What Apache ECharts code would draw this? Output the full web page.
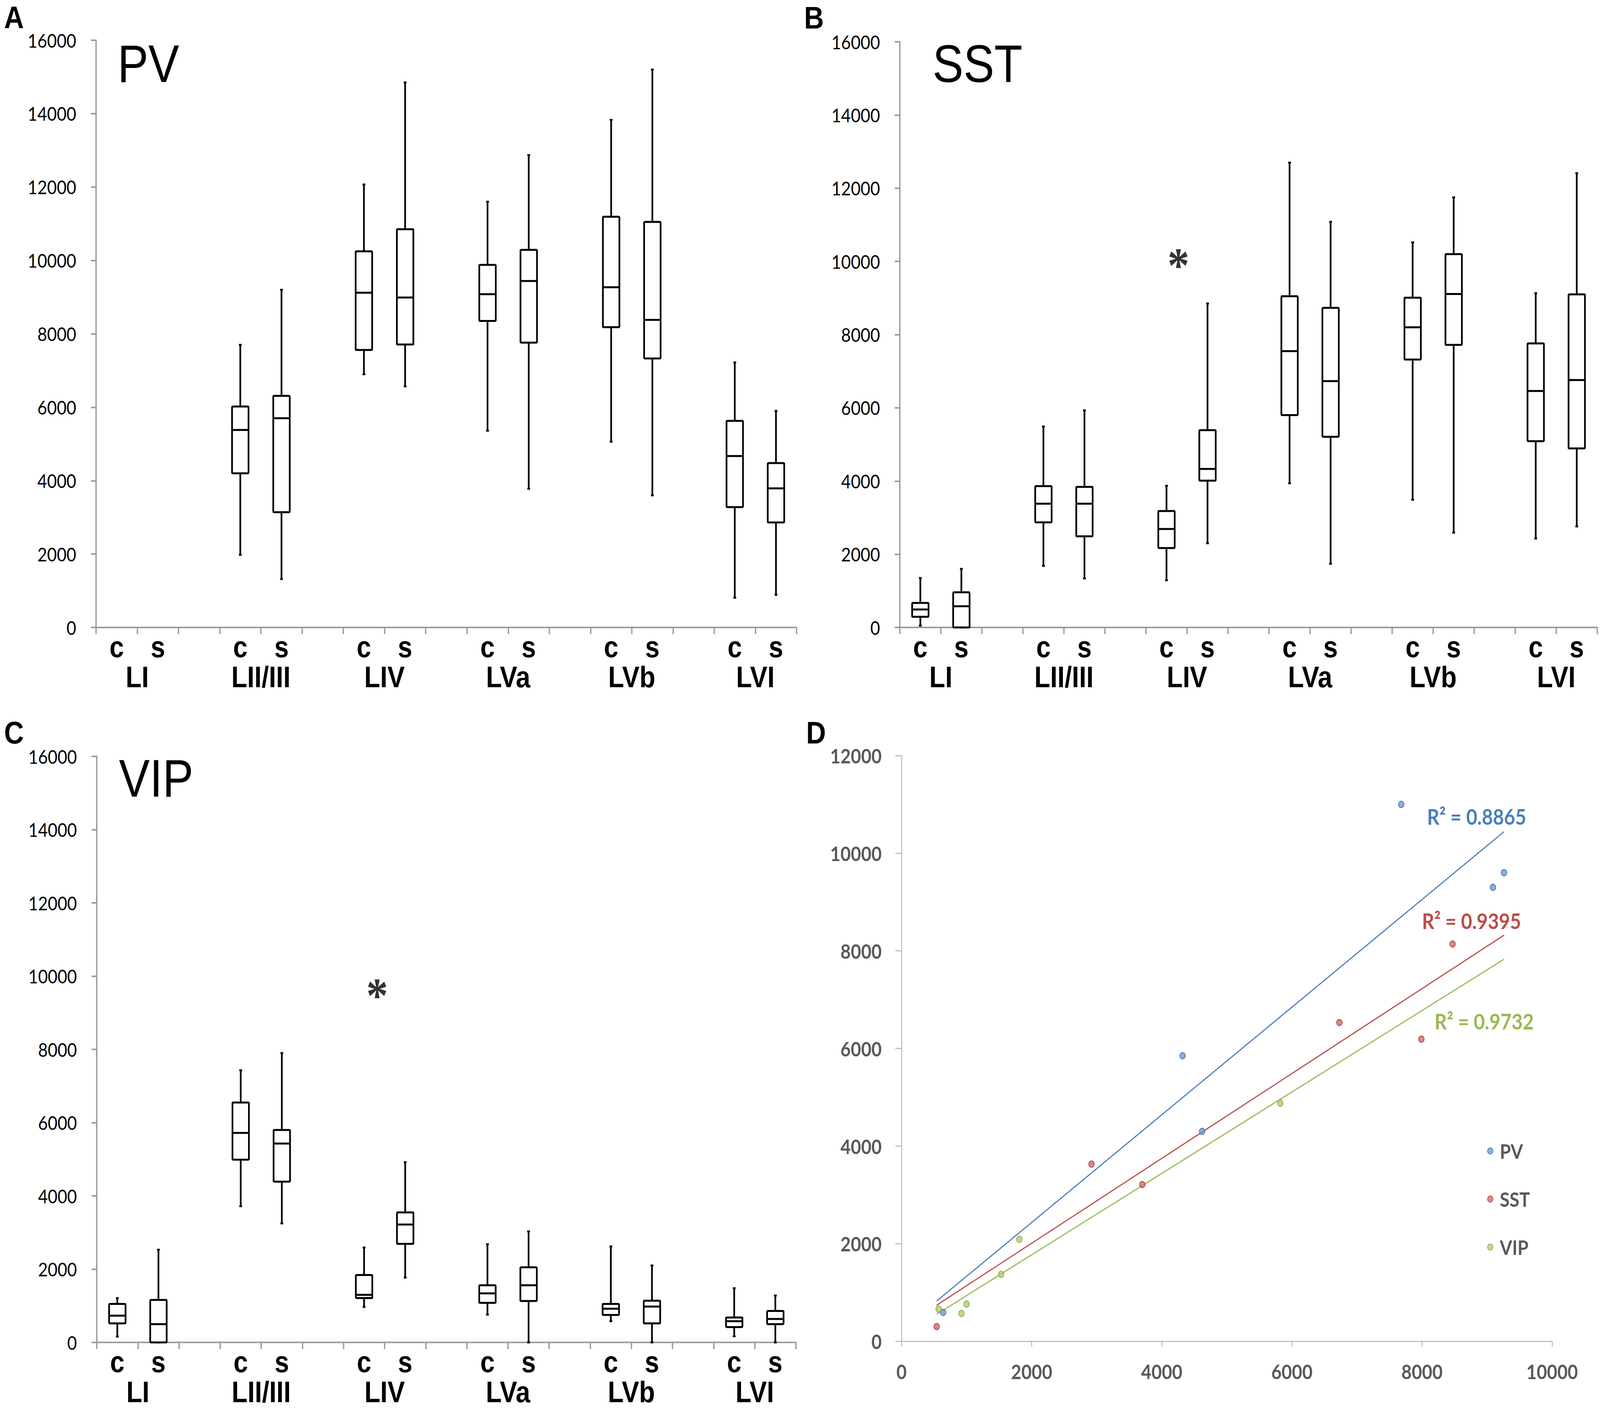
<!DOCTYPE html>
<html><head><meta charset="utf-8">
<script src="https://cdn.jsdelivr.net/npm/echarts@6/dist/echarts.min.js"></script>
<style>html,body{margin:0;padding:0;background:#fff;overflow:hidden}#outer{position:relative;overflow:hidden}#wrap{position:absolute;left:0;top:0;width:4680px;height:3609px;transform-origin:0 0}#c{width:4680px;height:3609px}</style>
</head><body><div id="outer"><div id="wrap"><div id="c"></div></div></div>
<script>
// ---------- DATA ----------
const layers = ['LI', 'LII/III', 'LIV', 'LVa', 'LVb', 'LVI'];
const conds = ['c', 's'];
const yTicksBox = { min: 0, max: 16000, interval: 2000 };
// [min, Q1, median, Q3, max] for each layer; null = not shown
const pvControl  = [null, [1980,4200,5380,6020,7700], [6900,7560,9120,10250,12070], [5360,8350,9080,9880,11600], [5060,8180,9270,11190,13830], [810,3280,4670,5630,7220]];
const pvSample   = [null, [1320,3140,5700,6310,9200], [6570,7710,8990,10850,14850], [3780,7760,9440,10290,12870], [3600,7330,8380,11050,15200], [890,2860,3790,4480,5900]];
const sstControl = [[50,290,490,670,1350], [1680,2870,3380,3860,5490], [1290,2170,2690,3180,3870], [3940,5800,7550,9050,12700], [3490,7320,8200,9010,10520], [2430,5090,6460,7760,9130]];
const sstSample  = [[0,0,580,960,1600], [1340,2490,3380,3840,5930], [2300,4010,4330,5390,8850], [1740,5210,6730,8730,11080], [2590,7720,9110,10200,11750], [2760,4890,6760,9100,12410]];
const vipControl = [[160,520,730,1050,1210], [3720,4990,5720,6550,7430], [970,1210,1300,1840,2590], [760,1080,1340,1560,2680], [580,750,920,1050,2620], [170,420,580,680,1480]];
const vipSample  = [[0,0,500,1160,2530], [3250,4390,5430,5800,7900], [1770,2690,3220,3550,4920], [0,1130,1560,2050,3030], [0,520,980,1140,2100], [0,500,640,860,1280]];
const sigSST = [['LIV', 10080]];
const sigVIP = [['LIV', 9650]];
// Panel D scatter
const pvX  = [7680, 9260, 9090, 4320, 4620, 640];
const pvY  = [11000, 9600, 9300, 5850, 4300, 590];
const sstX = [8470, 6730, 7990, 2920, 3700, 540];
const sstY = [8140, 6530, 6190, 3630, 3210, 300];
const vipX = [5820, 1810, 1530, 1000, 920, 570];
const vipY = [4880, 2090, 1370, 760, 570, 660];
const r2Text = ['R\u00b2 = 0.8865', 'R\u00b2 = 0.9395', 'R\u00b2 = 0.9732'];
const seriesNames = ['PV', 'SST', 'VIP'];
const xTicksD = { min: 0, max: 10000, interval: 2000 };
const yTicksD = { min: 0, max: 12000, interval: 2000 };

// ---------- layout: fill the browser viewport ----------
const W = 4680, H = 3609;
const vw = window.innerWidth || W, vh = window.innerHeight || H;
const sx = vw / W, sy = vh / H;
document.getElementById('wrap').style.transform = 'scale(' + sx + ',' + sy + ')';
const outer = document.getElementById('outer');
outer.style.width = vw + 'px';
outer.style.height = vh + 'px';

// ---------- helpers ----------
const LATO = 'Lato, "Open Sans", sans-serif';
const ARIAL = '"Liberation Sans", Arial, sans-serif';
const plain = v => String(v);
const slots = [];
layers.forEach((l, i) => { conds.forEach(c => slots.push(l + '|' + c)); if (i < layers.length - 1) slots.push('~gap' + i); });
const bounds = [];
for (let k = 0; k <= slots.length; k++) bounds.push(k % 3 === 1 ? layers[(k - 1) / 3] : '~' + k);

function boxData(ctrl, samp) {
  const out = [];
  layers.forEach((l, i) => {
    if (ctrl[i]) out.push([slots.indexOf(l + '|c')].concat(ctrl[i]));
    if (samp[i]) out.push([slots.indexOf(l + '|s')].concat(samp[i]));
  });
  return out;
}
function renderBox(params, api) {
  const x = api.value(0);
  const p = [1, 2, 3, 4, 5].map(i => api.coord([x, api.value(i)]));
  const slot = api.size([1, 0])[0];
  const w = slot * 0.4;
  const cx = p[2][0];
  const st = { stroke: '#000', lineWidth: 5, fill: null };
  return { type: 'group', children: [
    { type: 'line', shape: { x1: cx, y1: p[4][1], x2: cx, y2: p[3][1] }, style: st },
    { type: 'line', shape: { x1: cx, y1: p[1][1], x2: cx, y2: p[0][1] }, style: st },
    { type: 'line', shape: { x1: cx - 4, y1: p[4][1], x2: cx + 4, y2: p[4][1] }, style: st },
    { type: 'line', shape: { x1: cx - 4, y1: p[0][1], x2: cx + 4, y2: p[0][1] }, style: st },
    { type: 'rect', shape: { x: cx - w / 2, y: p[3][1], width: w, height: p[1][1] - p[3][1], r: 2 }, style: { fill: '#fff', stroke: '#000', lineWidth: 5 } },
    { type: 'line', shape: { x1: cx - w / 2, y1: p[2][1], x2: cx + w / 2, y2: p[2][1] }, style: st }
  ]};
}
function fit(xs, ys) {
  const n = xs.length;
  const mx = xs.reduce((a, b) => a + b, 0) / n, my = ys.reduce((a, b) => a + b, 0) / n;
  let sxy = 0, sxx = 0;
  for (let i = 0; i < n; i++) { sxy += (xs[i] - mx) * (ys[i] - my); sxx += (xs[i] - mx) ** 2; }
  const b = sxy / sxx; return { a: my - b * mx, b };
}

const grids = [
  { left: 281, top: 103, width: 2049, height: 1503 },
  { left: 2632, top: 107, width: 2040, height: 1499 },
  { left: 283, top: 1936, width: 2045, height: 1500 },
  { left: 2637, top: 1934, width: 1903, height: 1499 }
];
const boxAxisLine = { show: true, onZero: false, lineStyle: { color: '#9c9c9c', width: 4 } };
const xAxes = [], yAxes = [];
for (let g = 0; g < 3; g++) {
  xAxes.push({ type: 'category', gridIndex: g, data: slots, position: 'bottom', boundaryGap: true,
    axisLine: boxAxisLine, axisTick: { show: true, length: 17, interval: 0, lineStyle: { color: '#9c9c9c', width: 4 } },
    axisLabel: { interval: 0, margin: 49, verticalAlign: 'middle', fontFamily: ARIAL, fontWeight: 'bold', fontSize: 76, color: '#000',
      formatter: v => v.startsWith('~') ? '' : v.split('|')[1] }, splitLine: { show: false } });
  xAxes.push({ type: 'category', gridIndex: g, data: bounds, position: 'bottom', boundaryGap: false,
    axisLine: { show: false, onZero: false }, axisTick: { show: false },
    axisLabel: { interval: 0, margin: 126, verticalAlign: 'middle', fontFamily: ARIAL, fontWeight: 'bold', fontSize: 76, color: '#000',
      formatter: v => v.startsWith('~') ? '' : v }, splitLine: { show: false } });
  yAxes.push({ type: 'value', gridIndex: g, min: yTicksBox.min, max: yTicksBox.max, interval: yTicksBox.interval,
    axisLine: boxAxisLine, axisTick: { show: true, length: 15, lineStyle: { color: '#9c9c9c', width: 4 } },
    axisLabel: { margin: 58, fontFamily: LATO, fontSize: 49, color: '#000', formatter: plain }, splitLine: { show: false } });
}
const dAxisStyle = { show: true, onZero: false, lineStyle: { color: '#bfbfbf', width: 3 } };
const dLabel = { fontFamily: LATO, fontWeight: 'bold', fontSize: 52, color: '#595959', formatter: plain };
xAxes.push({ type: 'value', gridIndex: 3, min: xTicksD.min, max: xTicksD.max, interval: xTicksD.interval,
  axisLine: dAxisStyle, axisTick: { show: true, length: 14, lineStyle: { color: '#bfbfbf', width: 3 } },
  axisLabel: Object.assign({ margin: 77, verticalAlign: 'middle' }, dLabel), splitLine: { show: false } });
yAxes.push({ type: 'value', gridIndex: 3, min: yTicksD.min, max: yTicksD.max, interval: yTicksD.interval,
  axisLine: dAxisStyle, axisTick: { show: true, length: 18, lineStyle: { color: '#bfbfbf', width: 3 } },
  axisLabel: Object.assign({ margin: 58 }, dLabel), splitLine: { show: false } });

const series = [];
[[pvControl, pvSample], [sstControl, sstSample], [vipControl, vipSample]].forEach((pair, g) => {
  series.push({ type: 'custom', xAxisIndex: 2 * g, yAxisIndex: g, renderItem: renderBox,
    encode: { x: 0, y: [1, 2, 3, 4, 5] }, data: boxData(pair[0], pair[1]), clip: false, z: 3 });
});
[[sigSST, 1, -25], [sigVIP, 2, -22]].forEach(([sig, g, dx]) => {
  series.push({ type: 'scatter', xAxisIndex: 2 * g + 1, yAxisIndex: g, data: sig, symbolSize: 1,
    itemStyle: { color: 'rgba(0,0,0,0)' }, silent: true,
    label: { show: true, position: 'inside', formatter: '*', fontFamily: '"Liberation Serif", serif', fontWeight: 'bold', fontSize: 128, color: '#000', offset: [dx, 17] } });
});
const dColors = [
  { line: '#4a7ebb', fill: '#6f9bd1', border: '#3f6fad' },
  { line: '#be4b48', fill: '#d46a67', border: '#a8403c' },
  { line: '#98b954', fill: '#b1cc74', border: '#86a845' }
];
const dSets = [[pvX, pvY], [sstX, sstY], [vipX, vipY]];
const allX = pvX.concat(sstX, vipX);
const xLo = Math.min(...allX), xHi = Math.max(...allX);
const fits = dSets.map(([xs, ys]) => fit(xs, ys));
dSets.forEach(([xs, ys], i) => {
  const f = fits[i];
  series.push({ type: 'line', name: seriesNames[i] + ' trend', xAxisIndex: 6, yAxisIndex: 3, showSymbol: false, silent: true,
    data: [[xLo, f.a + f.b * xLo], [xHi, f.a + f.b * xHi]], lineStyle: { color: dColors[i].line, width: 3 }, z: 2 });
});
dSets.forEach(([xs, ys], i) => {
  series.push({ type: 'scatter', name: seriesNames[i], xAxisIndex: 6, yAxisIndex: 3, symbol: 'circle', symbolSize: 16,
    data: xs.map((x, j) => [x, ys[j]]), itemStyle: { color: dColors[i].fill, borderColor: dColors[i].border, borderWidth: 2.5 }, z: 4 });
});

const chart = echarts.init(document.getElementById('c'), null, { renderer: 'svg', width: W, height: H });
chart.setOption({
  animation: false, backgroundColor: '#fff',
  grid: grids, xAxis: xAxes, yAxis: yAxes, series,
  legend: { data: seriesNames, orient: 'vertical', left: 4345, top: 2914, icon: 'circle', itemWidth: 46, itemHeight: 16, itemGap: 69,
    textStyle: { fontFamily: LATO, fontWeight: 'bold', fontSize: 52, color: '#595959', lineHeight: 54 } }
});

// annotations
const txt = (x, y, text, size, weight, family, color) => ({ type: 'text', x, y, silent: true,
  style: { text, fontSize: size, fontWeight: weight, fontFamily: family, fill: color || '#000', align: 'left', verticalAlign: 'middle' } });
const graphics = [
  txt(12, 44, 'A', 80, 'bold', ARIAL), txt(2352, 45, 'B', 80, 'bold', ARIAL),
  txt(12, 1875, 'C', 80, 'bold', ARIAL), txt(2358, 1875, 'D', 80, 'bold', ARIAL),
  txt(344, 163, 'PV', 135, 'normal', ARIAL), txt(2728, 163, 'SST', 135, 'normal', ARIAL), txt(348, 1992, 'VIP', 135, 'normal', ARIAL)
];
const r2Offsets = [[-80, -40], [-95, -37], [-58, 158]];
fits.forEach((f, i) => {
  const end = chart.convertToPixel({ xAxisIndex: 6, yAxisIndex: 3 }, [xHi, f.a + f.b * xHi]);
  const g = txt(end[0] + r2Offsets[i][0], end[1] + r2Offsets[i][1], r2Text[i], 56, 'bold', LATO, dColors[i].line);
  g.style.align = 'center';
  graphics.push(g);
});
chart.setOption({ graphic: graphics });
</script></body></html>
